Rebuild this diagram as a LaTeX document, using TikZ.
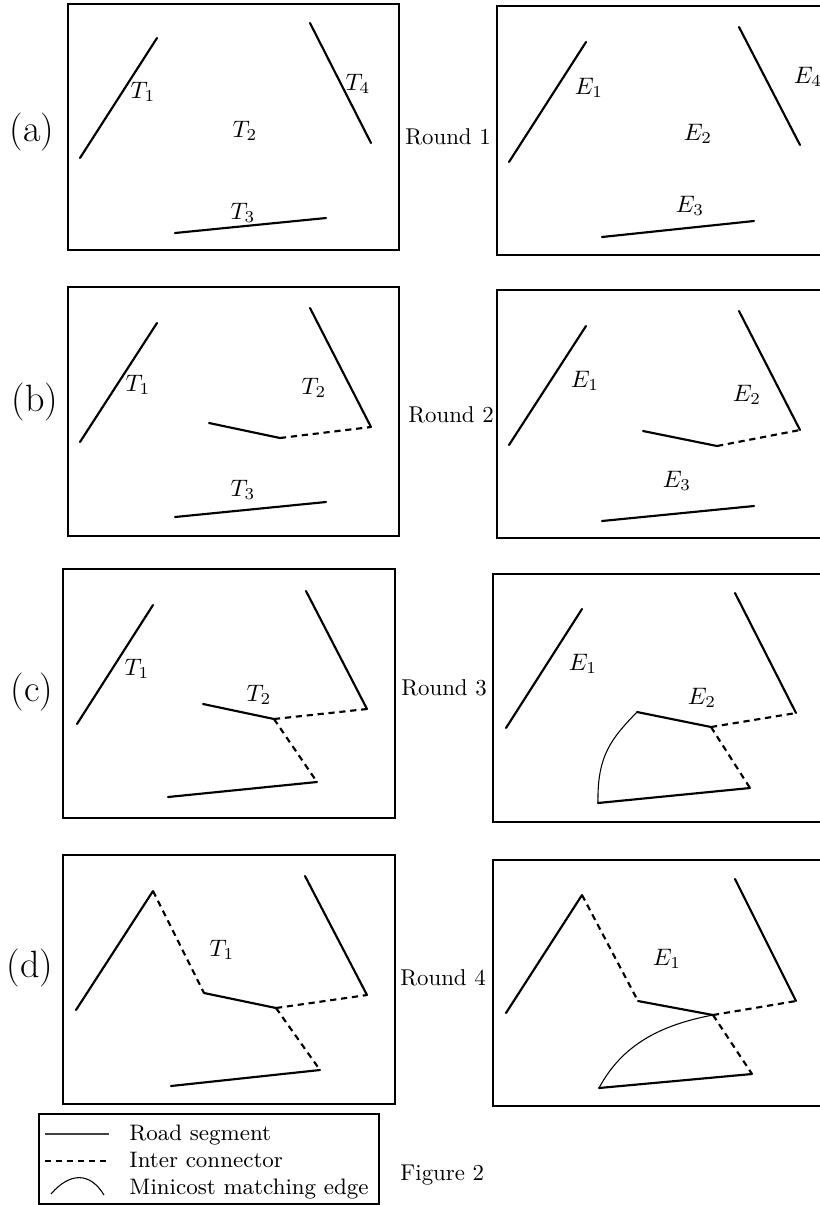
\documentclass[tikz,border=0pt]{standalone}
\usetikzlibrary{positioning}
\tikzset{
  panel/.style={draw, line width=0.8pt},
  road/.style={line width=0.9pt, line cap=round},
  link/.style={line width=0.9pt, dash pattern=on 2.6pt off 2pt},
  match/.style={line width=0.45pt},
  seg/.style={inner sep=1pt},
  tag/.style={font=\fontsize{16}{18}\selectfont},
  roundlbl/.style={font=\fontsize{9.6}{11}\selectfont},
  legtext/.style={anchor=base west, inner sep=0pt, font=\fontsize{9.4}{11}\selectfont}
}
\begin{document}
\begin{tikzpicture}[x=0.42pt,y=-0.42pt]
  \useasboundingbox (0,0) rectangle (820,1205);

  % (a) Round 1
  \node[tag] (tagA) at (32,132) {(a)};
  \node[roundlbl] (rndA) at (448,137) {Round 1};
  \draw[panel] (68,4) rectangle (399,250);
  \draw[road] (80,158) -- (157,38);
  \draw[road] (310,23) -- (371,143);
  \draw[road] (175,233) -- (326,218);
  \node[seg] (tA1) at (143,92) {$T_1$};
  \node[seg] (tA2) at (245,131) {$T_2$};
  \node[seg] (tA3) at (243,213) {$T_3$};
  \node[seg] (tA4) at (358,84) {$T_4$};

  \draw[panel] (497,6) rectangle (828,255);
  \draw[road] (509,162) -- (586,42);
  \draw[road] (739,27) -- (800,145);
  \draw[road] (602,237) -- (754,221);
  \node[seg] (eA1) at (589,88) {$E_1$};
  \node[seg] (eA2) at (698,134) {$E_2$};
  \node[seg] (eA3) at (690,206) {$E_3$};
  \node[seg] (eA4) at (808,77) {$E_4$};

  % (b) Round 2
  \node[tag] (tagB) at (35,402) {(b)};
  \node[roundlbl] (rndB) at (451,415) {Round 2};
  \draw[panel] (68,287) rectangle (399,536);
  \coordinate (bL) at (280,438);
  \coordinate (bR) at (371,427);
  \draw[road] (80,442) -- (157,323);
  \draw[road] (310,308) -- (bR);
  \draw[road] (209,423) -- (bL);
  \draw[link] (bL) -- (bR);
  \draw[road] (175,517) -- (326,502);
  \node[seg] (tB1) at (138,385) {$T_1$};
  \node[seg] (tB2) at (314,388) {$T_2$};
  \node[seg] (tB3) at (243,490) {$T_3$};

  \draw[panel] (497,290) rectangle (828,538);
  \coordinate (bbL) at (717,446);
  \coordinate (bbR) at (800,430);
  \draw[road] (509,445) -- (586,326);
  \draw[road] (739,311) -- (bbR);
  \draw[road] (643,431) -- (bbL);
  \draw[link] (bbL) -- (bbR);
  \draw[road] (602,521) -- (754,506);
  \node[seg] (eB1) at (585,381) {$E_1$};
  \node[seg] (eB2) at (747,395) {$E_2$};
  \node[seg] (eB3) at (677,481) {$E_3$};

  % (c) Round 3
  \node[tag] (tagC) at (32,692) {(c)};
  \node[roundlbl] (rndC) at (444,688) {Round 3};
  \draw[panel] (63,569) rectangle (395,818);
  \coordinate (cM) at (274,719);
  \coordinate (cR) at (367,709);
  \coordinate (cB) at (317,782);
  \draw[road] (77,724) -- (153,605);
  \draw[road] (306,591) -- (cR);
  \draw[road] (203,704) -- (cM);
  \draw[link] (cM) -- (cR);
  \draw[link] (cM) -- (cB);
  \draw[road] (168,797) -- (cB);
  \node[seg] (tC1) at (137,669) {$T_1$};
  \node[seg] (tC2) at (259,695) {$T_2$};

  \draw[panel] (493,574) rectangle (825,822);
  \coordinate (ccS) at (637,712);
  \coordinate (ccM) at (711,727);
  \coordinate (ccR) at (796,713);
  \coordinate (ccB) at (750,788);
  \coordinate (ccF) at (598,803);
  \draw[road] (506,728) -- (582,609);
  \draw[road] (735,593) -- (ccR);
  \draw[road] (ccS) -- (ccM);
  \draw[link] (ccM) -- (ccR);
  \draw[link] (ccM) -- (ccB);
  \draw[road] (ccF) -- (ccB);
  \draw[match] (ccF) .. controls (597,755) and (612,738) .. (ccS);
  \node[seg] (eC1) at (583,664) {$E_1$};
  \node[seg] (eC2) at (702,698) {$E_2$};

  % (d) Round 4
  \node[tag] (tagD) at (30,968) {(d)};
  \node[roundlbl] (rndD) at (443,978) {Round 4};
  \draw[panel] (63,855) rectangle (395,1104);
  \coordinate (dT) at (153,891);
  \coordinate (dS) at (204,993);
  \coordinate (dM) at (276,1008);
  \coordinate (dR) at (367,995);
  \coordinate (dB) at (320,1070);
  \draw[road] (76,1010) -- (dT);
  \draw[link] (dT) -- (dS);
  \draw[road] (dS) -- (dM);
  \draw[link] (dM) -- (dR);
  \draw[road] (305,876) -- (dR);
  \draw[link] (dM) -- (dB);
  \draw[road] (171,1086) -- (dB);
  \node[seg] (tD1) at (222,950) {$T_1$};

  \draw[panel] (493,860) rectangle (825,1106);
  \coordinate (ddT) at (582,895);
  \coordinate (ddS) at (638,1001);
  \coordinate (ddM) at (713,1015);
  \coordinate (ddR) at (796,1001);
  \coordinate (ddB) at (752,1074);
  \coordinate (ddF) at (599,1088);
  \draw[road] (506,1013) -- (ddT);
  \draw[link] (ddT) -- (ddS);
  \draw[road] (ddS) -- (ddM);
  \draw[link] (ddM) -- (ddR);
  \draw[road] (735,879) -- (ddR);
  \draw[link] (ddM) -- (ddB);
  \draw[road] (ddF) -- (ddB);
  \draw[match] (ddF) .. controls (622,1045) and (660,1025) .. (ddM);
  \node[seg] (eD1) at (667,959) {$E_1$};

  % legend
  \draw[panel] (39,1114) rectangle (379,1204);
  \draw[road, line cap=butt, line width=1.1pt, black!75] (45,1134) -- (109,1134);
  \draw[link, line width=0.7pt] (45,1161) -- (109,1161);
  \draw[match] (51,1194) .. controls (70,1172) and (90,1172) .. (104,1195);
  \node[legtext] (legRoad) at (129,1140) {Road segment};
  \node[legtext] (legLink) at (129,1167) {Inter connector};
  \node[legtext] (legMatch) at (129,1194) {Minicost matching edge};
  \node[anchor=west, inner sep=0pt, font=\fontsize{9.6}{11}\selectfont] (figcap) at (400,1175) {Figure 2};
\end{tikzpicture}
\end{document}
